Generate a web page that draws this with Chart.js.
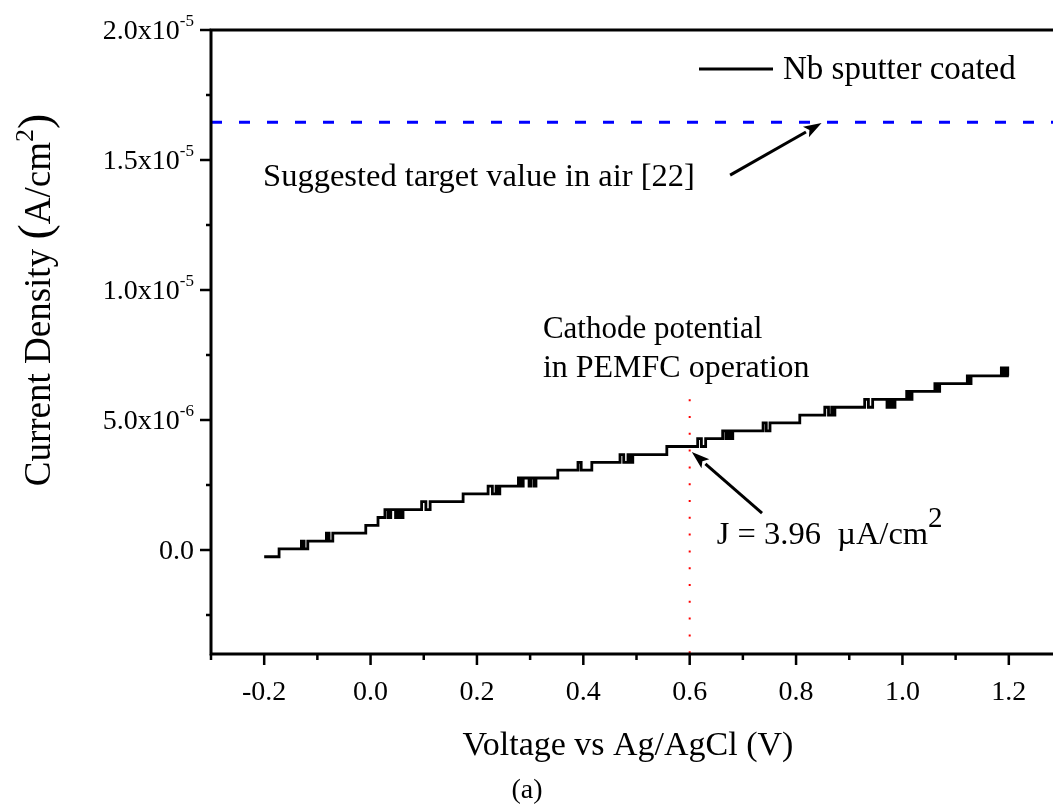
<!DOCTYPE html>
<html>
<head>
<meta charset="utf-8">
<script src="https://cdn.jsdelivr.net/npm/chart.js@4.4.0/dist/chart.umd.min.js"></script>
<style>
  html, body { margin: 0; padding: 0; background: #fff; overflow: hidden; }
  #wrap { width: 1075px; height: 807px; }
</style>
</head>
<body>
<div id="wrap"><canvas id="ivChart" width="1075" height="807"></canvas></div>
<script>
// Nb sputter coated - potentiostatic sweep, V vs Ag/AgCl and current density in uA/cm2
// (stepped trace, the small toggles are the ADC flicker between two levels)
const voltage = [
  -0.200, -0.172,
  -0.130, -0.125, -0.118,
  -0.083, -0.078, -0.071,
  -0.009, 0.014,
  0.027, 0.033, 0.038, 0.047, 0.052, 0.056, 0.061,
  0.096, 0.104, 0.112,
  0.174,
  0.221, 0.229, 0.236, 0.240, 0.243,
  0.278, 0.283, 0.287, 0.298, 0.302, 0.308, 0.311,
  0.352,
  0.390, 0.396,
  0.416,
  0.469, 0.476, 0.484, 0.489, 0.493,
  0.557,
  0.615, 0.622, 0.630,
  0.662, 0.668, 0.672, 0.677, 0.681,
  0.738, 0.744, 0.751,
  0.807,
  0.854, 0.861, 0.867, 0.870, 0.873,
  0.929, 0.936, 0.944,
  0.971, 0.976, 0.981, 0.986,
  1.008, 1.013, 1.018,
  1.061, 1.066, 1.070,
  1.122, 1.125, 1.129,
  1.186, 1.190, 1.194, 1.198, 1.200
];
const current = [
  -0.26, 0.04,
  0.34, 0.04, 0.34,
  0.65, 0.34, 0.65,
  0.95, 1.25,
  1.55, 1.25, 1.55, 1.25, 1.55, 1.25, 1.55,
  1.86, 1.55, 1.86,
  2.16,
  2.46, 2.16, 2.46, 2.16, 2.46,
  2.77, 2.46, 2.77, 2.46, 2.77, 2.46, 2.77,
  3.07,
  3.37, 3.07,
  3.37,
  3.67, 3.37, 3.67, 3.37, 3.67,
  3.98,
  4.28, 3.98, 4.28,
  4.58, 4.28, 4.58, 4.28, 4.58,
  4.89, 4.58, 4.89,
  5.19,
  5.49, 5.19, 5.49, 5.19, 5.49,
  5.79, 5.49, 5.79,
  5.49, 5.79, 5.49, 5.79,
  6.10, 5.79, 6.10,
  6.40, 6.10, 6.40,
  6.70, 6.40, 6.70,
  7.00, 6.70, 7.00, 6.70, 6.70
];

const targetCurrent = 16.45;   // suggested target value in air [22]
const cathodeVoltage = 0.6;    // PEMFC cathode potential
const cathodeTop = 5.8;

const xRange = [-0.3, 1.3];
const yRange = [-4, 20];
const xMajor = [-0.2, 0.0, 0.2, 0.4, 0.6, 0.8, 1.0, 1.2];
const xMinor = [-0.3, -0.1, 0.1, 0.3, 0.5, 0.7, 0.9, 1.1];
const yMajor = [0, 5, 10, 15, 20];
const yMajorText = ['0.0', '5.0x10', '1.0x10', '1.5x10', '2.0x10'];
const yMajorExp = ['', '-6', '-5', '-5', '-5'];
const yMinor = [-2.5, 2.5, 7.5, 12.5, 17.5];

const SERIF = '"Liberation Serif", "Times New Roman", serif';

// draw a run of text pieces one after another, pieces can be raised (superscripts)
function drawRun(ctx, x, y, parts) {
  let cx = x;
  parts.forEach(p => {
    ctx.font = p.size + 'px ' + SERIF;
    ctx.fillText(p.t, cx, y - (p.rise || 0));
    cx += ctx.measureText(p.t).width;
  });
  return cx;
}
function runWidth(ctx, parts) {
  let w = 0;
  parts.forEach(p => { ctx.font = p.size + 'px ' + SERIF; w += ctx.measureText(p.t).width; });
  return w;
}

function arrow(ctx, x1, y1, x2, y2) {
  const a = Math.atan2(y2 - y1, x2 - x1);
  const len = 18, half = 6;
  const bx = x2 - len * Math.cos(a), by = y2 - len * Math.sin(a);
  ctx.beginPath();
  ctx.moveTo(x1, y1);
  ctx.lineTo(bx, by);
  ctx.stroke();
  ctx.beginPath();
  ctx.moveTo(x2, y2);
  ctx.lineTo(bx + half * Math.sin(a), by - half * Math.cos(a));
  ctx.lineTo(bx + 4 * Math.cos(a), by + 4 * Math.sin(a));
  ctx.lineTo(bx - half * Math.sin(a), by + half * Math.cos(a));
  ctx.closePath();
  ctx.fill();
}

const decor = {
  id: 'decor',
  afterDraw(chart) {
    const ctx = chart.ctx;
    const a = chart.chartArea;
    const xs = chart.scales.x, ys = chart.scales.y;
    const px = v => xs.getPixelForValue(v);
    const py = v => ys.getPixelForValue(v);
    ctx.save();
    ctx.strokeStyle = '#000';
    ctx.fillStyle = '#000';

    // frame: left, bottom and top lines
    ctx.lineWidth = 3;
    ctx.lineCap = 'square';
    ctx.beginPath();
    ctx.moveTo(a.left, a.top);
    ctx.lineTo(a.left, a.bottom);
    ctx.lineTo(a.right, a.bottom);
    ctx.moveTo(a.left, a.top);
    ctx.lineTo(a.right, a.top);
    ctx.stroke();

    // tick marks
    ctx.lineCap = 'butt';
    ctx.lineWidth = 2.5;
    ctx.beginPath();
    xMajor.forEach(v => { ctx.moveTo(px(v), a.bottom); ctx.lineTo(px(v), a.bottom + 11); });
    xMinor.forEach(v => { ctx.moveTo(px(v), a.bottom); ctx.lineTo(px(v), a.bottom + 6); });
    yMajor.forEach(v => { ctx.moveTo(a.left, py(v)); ctx.lineTo(a.left - 11, py(v)); });
    yMinor.forEach(v => { ctx.moveTo(a.left, py(v)); ctx.lineTo(a.left - 5, py(v)); });
    ctx.stroke();

    // y tick labels with exponents
    ctx.textBaseline = 'alphabetic';
    ctx.textAlign = 'left';
    yMajor.forEach((v, i) => {
      const parts = [{ t: yMajorText[i], size: 28 }];
      if (yMajorExp[i]) parts.push({ t: yMajorExp[i], size: 17, rise: 13 });
      const w = runWidth(ctx, parts);
      drawRun(ctx, 194 - w, py(v) + 9, parts);
    });

    // axis titles
    const xt = [{ t: 'Voltage vs Ag/AgCl (V)', size: 34 }];
    drawRun(ctx, 628 - runWidth(ctx, xt) / 2, 755, xt);
    const cap = [{ t: '(a)', size: 28 }];
    drawRun(ctx, 527 - runWidth(ctx, cap) / 2, 798, cap);

    const yt = [
      { t: 'Current Density ', size: 37 },
      { t: '(', size: 46 },
      { t: 'A/cm', size: 37 },
      { t: '2', size: 26, rise: 17 },
      { t: ')', size: 46 }
    ];
    ctx.save();
    ctx.translate(50, 300);
    ctx.rotate(-Math.PI / 2);
    drawRun(ctx, -runWidth(ctx, yt) / 2, 0, yt);
    ctx.restore();

    // legend
    ctx.lineWidth = 3;
    ctx.beginPath();
    ctx.moveTo(699, 69);
    ctx.lineTo(773, 69);
    ctx.stroke();
    ctx.textBaseline = 'middle';
    drawRun(ctx, 783, 70, [{ t: 'Nb sputter coated', size: 33 }]);
    ctx.textBaseline = 'alphabetic';

    // annotations
    drawRun(ctx, px(-0.202), py(14.0), [{ t: 'Suggested target value in air [22]', size: 32.5 }]);
    drawRun(ctx, px(0.324), py(8.15), [{ t: 'Cathode potential', size: 31 }]);
    drawRun(ctx, px(0.324), py(6.65), [{ t: 'in PEMFC operation', size: 32 }]);
    drawRun(ctx, px(0.651), py(0.23), [
      { t: 'J = 3.96  \u00b5A/cm', size: 32.5 },
      { t: '2', size: 29, rise: 17 }
    ]);

    ctx.lineWidth = 3;
    arrow(ctx, px(0.676), py(14.42), px(0.848), py(16.42));
    arrow(ctx, px(0.736), py(1.42), px(0.604), py(3.77));
    ctx.restore();
  }
};

const steps = voltage.map((v, i) => ({ x: v, y: current[i] }));

new Chart(document.getElementById('ivChart'), {
  type: 'line',
  data: {
    datasets: [
      {
        label: 'Nb sputter coated',
        data: steps,
        stepped: true,
        borderColor: '#000',
        borderWidth: 2.8,
        pointRadius: 0,
        fill: false
      },
      {
        label: 'target',
        data: [{ x: xRange[0], y: targetCurrent }, { x: xRange[1], y: targetCurrent }],
        borderColor: '#0000ff',
        borderWidth: 3,
        borderDash: [11, 17],
        pointRadius: 0
      },
      {
        label: 'cathode',
        data: [{ x: cathodeVoltage, y: cathodeTop }, { x: cathodeVoltage, y: yRange[0] }],
        borderColor: '#ff0000',
        borderWidth: 2,
        borderDash: [2, 14.8],
        pointRadius: 0
      }
    ]
  },
  options: {
    responsive: false,
    animation: false,
    devicePixelRatio: 1,
    layout: { padding: { left: 0, top: 30, right: 13, bottom: 0 } },
    plugins: { legend: { display: false }, tooltip: { enabled: false } },
    scales: {
      x: {
        type: 'linear',
        min: xRange[0],
        max: xRange[1],
        afterBuildTicks: s => { s.ticks = xMajor.map(v => ({ value: v })); },
        afterFit: s => { s.height = 153; },
        grid: { display: false },
        border: { display: false },
        ticks: {
          color: '#000',
          padding: 14,
          maxRotation: 0,
          font: { family: SERIF, size: 28 },
          callback: v => v.toFixed(1)
        }
      },
      y: {
        type: 'linear',
        min: yRange[0],
        max: yRange[1],
        afterFit: s => { s.width = 211; },
        grid: { display: false },
        border: { display: false },
        ticks: { display: false }
      }
    }
  },
  plugins: [decor]
});
</script>
</body>
</html>
